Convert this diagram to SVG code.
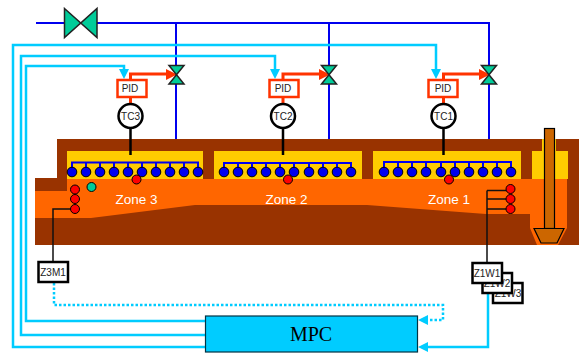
<svg xmlns="http://www.w3.org/2000/svg" width="579" height="354" viewBox="0 0 579 354">
<style>
text{font-family:"Liberation Sans",Arial,sans-serif;text-anchor:middle;fill:#222}
.blue{fill:none;stroke:#0000ee;stroke-width:2}
.cy{fill:none;stroke:#00ccff;stroke-width:2.500}
.dot{fill:none;stroke:#00ccff;stroke-width:2.500;stroke-dasharray:2.500 2}
.ah{fill:#00ccff}
.red{fill:none;stroke:#ff3300;stroke-width:3}
.rah{fill:#ff3300}
.blk{fill:none;stroke:#111;stroke-width:1.500}
.thk{fill:none;stroke:#000;stroke-width:2.500}
.brown{fill:#993300}.or{fill:#ff6600}.yl{fill:#ffcc00}
.b{fill:#0000ee;stroke:#000;stroke-width:1}
.r{fill:#ff0000;stroke:#000;stroke-width:1}
.g{fill:#00cc99;stroke:#000;stroke-width:1}
.valve{fill:#00cc99;stroke:#222;stroke-width:1.500}
.pid{fill:#fff;stroke:#ff3300;stroke-width:2.500}
.tc{fill:#fff;stroke:#000;stroke-width:2.500}
.tag{fill:#fff;stroke:#000;stroke-width:2.500}
.t{font-size:10px}.z{font-size:13.500px;fill:#fff}
</style>
<g id="furnace">
<path class="brown" d="M57 139H579V245H35V178H57Z"/>
<path class="or" d="M35 191H67V179H567V228L558 245H537L530 228V214H486L367 205H195L91 218H35Z"/>
<path class="yl" d="M67 151H203V179H67ZM214 151H362V179H214ZM373 151H521V179H373ZM532 151H568V179H532ZM542 139H556V151H542Z"/>
<text class="z" x="136.500" y="203.500">Zone 3</text>
<text class="z" x="286.500" y="203.500">Zone 2</text>
<text class="z" x="449" y="203.500">Zone 1</text>
</g>
<g id="rod">
<rect x="544.500" y="128.500" width="10" height="100" fill="#cc6600" stroke="#000" stroke-width="1.200"/>
<path d="M534 228.500H564L557 243H541Z" fill="#cc6600" stroke="#000" stroke-width="1.200"/>
</g>
<g id="connectors">
<path class="blue" d="M36 23H489V139M176 23V139M329 23V139"/>
<path class="blue" d="M72 172V162.500H198V172M86 162V172M100 162V172M114 162V172M128 162V172M142 162V172M156 162V172M170 162V172M184 162V172"/>
<path class="blue" d="M224 172V163H351V172M238 163V172M252 163V172M266 163V172M280 163V172M294 163V172M309 163V172M323 163V172M337 163V172"/>
<path class="blue" d="M384 172V162H511V172M398 162V172M412 162V172M426 162V172M441 162V172M455 162V172M469 162V172M483 162V172M497 162V172"/>
<path class="cy" d="M205 347H13V45H436V70"/>
<path class="cy" d="M205 335H21V56H275V70"/>
<path class="cy" d="M205 321H26V66H124V70"/>
<path class="ah" d="M119 69H129L124 79ZM270 69H280L275 79ZM431 69H441L436 79Z"/>
<path class="dot" d="M54 283V305H443V320H428"/>
<path class="ah" d="M418 320L428 315V325Z"/>
<path class="cy" d="M488 283V347H426"/>
<path class="ah" d="M418 347L428 342V352Z"/>
<path class="red" d="M130.500 80V74H167M130.500 97V104M283 80V74H320M283 97V104M443.500 80V74H480M443.500 97V104"/>
<path class="rah" d="M177 74.500L166 69V80ZM330 74.500L319 69V80ZM490 74.500L479 69V80Z"/>
<path class="thk" d="M130.500 128V155M283 128V155M443.500 128V155"/>
<path class="blk" d="M75 209H53V263"/>
<path class="blk" d="M487 190.500H510M487 199H510M487 209H510M487 190.500V264"/>
</g>
<g id="valve-main"><path class="valve" d="M64.500 8.500L97 37.500V8.500L64.500 37.500Z"/></g>
<g id="valve3"><path class="valve" d="M169 65.500H184L169 84H184Z"/></g>
<g id="valve2"><path class="valve" d="M321.500 65.500H336.500L321.500 84H336.500Z"/></g>
<g id="valve1"><path class="valve" d="M481.500 65.500H496.500L481.500 84H496.500Z"/></g>
<g id="pid3"><rect class="pid" x="117.500" y="80" width="29" height="17"/><text class="t" x="130" y="92">PID</text></g>
<g id="pid2"><rect class="pid" x="269.500" y="80" width="29" height="17"/><text class="t" x="283" y="92">PID</text></g>
<g id="pid1"><rect class="pid" x="428.500" y="80" width="29" height="17"/><text class="t" x="443" y="92">PID</text></g>
<g id="tc3"><circle class="tc" cx="130.500" cy="116" r="12"/><text class="t" x="130.500" y="120">TC3</text></g>
<g id="tc2"><circle class="tc" cx="283" cy="116" r="12"/><text class="t" x="283" y="120">TC2</text></g>
<g id="tc1"><circle class="tc" cx="443.500" cy="116" r="12"/><text class="t" x="443.500" y="120">TC1</text></g>
<g id="burners3">
<circle class="b" cx="72" cy="172" r="4.800"/><circle class="b" cx="86" cy="172" r="4.800"/><circle class="b" cx="100" cy="172" r="4.800"/><circle class="b" cx="114" cy="172" r="4.800"/><circle class="b" cx="128" cy="172" r="4.800"/><circle class="b" cx="142" cy="172" r="4.800"/><circle class="b" cx="156" cy="172" r="4.800"/><circle class="b" cx="170" cy="172" r="4.800"/><circle class="b" cx="184" cy="172" r="4.800"/><circle class="b" cx="198" cy="172" r="4.800"/>
</g>
<g id="burners2">
<circle class="b" cx="224" cy="172" r="4.800"/><circle class="b" cx="238" cy="172" r="4.800"/><circle class="b" cx="252" cy="172" r="4.800"/><circle class="b" cx="266" cy="172" r="4.800"/><circle class="b" cx="280" cy="172" r="4.800"/><circle class="b" cx="294" cy="172" r="4.800"/><circle class="b" cx="309" cy="172" r="4.800"/><circle class="b" cx="323" cy="172" r="4.800"/><circle class="b" cx="337" cy="172" r="4.800"/><circle class="b" cx="351" cy="172" r="4.800"/>
</g>
<g id="burners1">
<circle class="b" cx="384" cy="172" r="4.800"/><circle class="b" cx="398" cy="172" r="4.800"/><circle class="b" cx="412" cy="172" r="4.800"/><circle class="b" cx="426" cy="172" r="4.800"/><circle class="b" cx="441" cy="172" r="4.800"/><circle class="b" cx="455" cy="172" r="4.800"/><circle class="b" cx="469" cy="172" r="4.800"/><circle class="b" cx="483" cy="172" r="4.800"/><circle class="b" cx="497" cy="172" r="4.800"/><circle class="b" cx="511" cy="172" r="4.800"/>
</g>
<g id="sensors">
<circle class="r" cx="136.500" cy="179.500" r="4.500"/><circle class="r" cx="288" cy="179.500" r="4.500"/><circle class="r" cx="449" cy="179.500" r="4.500"/>
<circle class="g" cx="91.500" cy="187" r="4.500"/>
<circle class="r" cx="75" cy="189.500" r="4.500"/><circle class="r" cx="75" cy="199" r="4.500"/><circle class="r" cx="75" cy="209" r="4.500"/>
<circle class="r" cx="510.500" cy="189" r="4.500"/><circle class="r" cx="510.500" cy="199" r="4.500"/><circle class="r" cx="510.500" cy="209" r="4.500"/>
</g>
<g id="z3m1"><rect class="tag" x="38.500" y="262" width="29.500" height="20"/><text class="t" x="53" y="276">Z3M1</text></g>
<g id="z1w3"><rect class="tag" x="493" y="283" width="29.500" height="20"/><text class="t" x="508" y="297">Z1W3</text></g>
<g id="z1w2"><rect class="tag" x="482.500" y="273" width="29.500" height="20"/><text class="t" x="497" y="287">Z1W2</text></g>
<g id="z1w1"><rect class="tag" x="472.500" y="263" width="29.500" height="20"/><text class="t" x="487" y="277">Z1W1</text></g>
<g id="mpc"><rect x="205.500" y="316" width="212" height="36" fill="#00ccff" stroke="#003344" stroke-width="1.200"/><text x="311" y="341" font-size="20" style="font-family:'Liberation Serif',serif;fill:#000">MPC</text></g>
</svg>
